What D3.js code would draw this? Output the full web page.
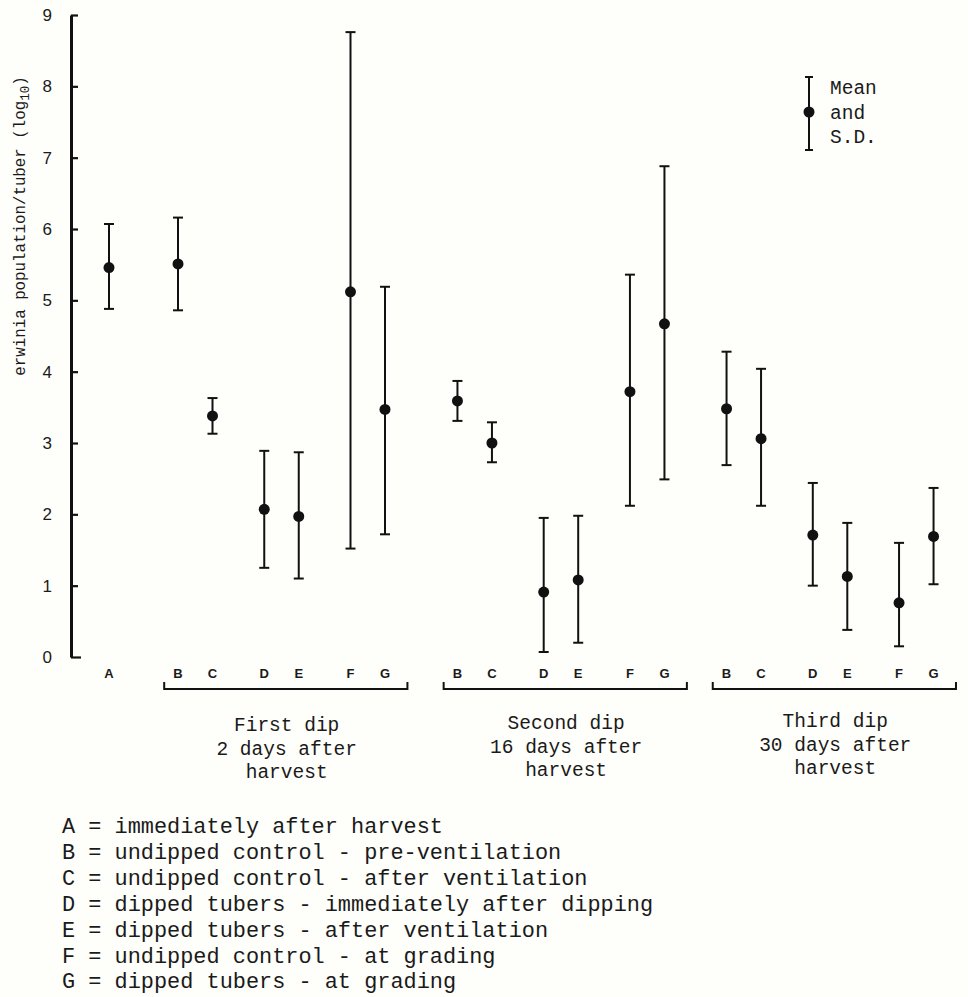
<!DOCTYPE html>
<html>
<head>
<meta charset="utf-8">
<script src="https://cdn.jsdelivr.net/npm/d3@7"></script>
<style>
  body { margin: 0; background: #fefefa; }
  svg { display: block; }
  .mono { font-family: "Liberation Mono", "DejaVu Sans Mono", monospace; fill: #1a1a1a; }
</style>
</head>
<body>
<script>
// ---- data (log10 erwinia population per tuber, mean and S.D. limits) ----
var codes = ["B", "C", "D", "E", "F", "G"];
var groups = [
  ["First dip", "2 days after", "harvest"],
  ["Second dip", "16 days after", "harvest"],
  ["Third dip", "30 days after", "harvest"]
];
// A = immediately after harvest
var meanA = 5.46, upperA = 6.07, lowerA = 4.88;
// one row per dip, columns B..G
var means = [
  [5.51, 3.38, 2.07, 1.97, 5.12, 3.47],
  [3.59, 3.00, 0.91, 1.08, 3.72, 4.67],
  [3.48, 3.06, 1.71, 1.13, 0.76, 1.69]
];
var upper = [
  [6.16, 3.63, 2.89, 2.87, 8.76, 5.19],
  [3.87, 3.29, 1.95, 1.98, 5.36, 6.88],
  [4.28, 4.04, 2.44, 1.88, 1.60, 2.37]
];
var lower = [
  [4.86, 3.13, 1.25, 1.10, 1.52, 1.72],
  [3.31, 2.73, 0.07, 0.20, 2.12, 2.49],
  [2.69, 2.12, 1.00, 0.38, 0.15, 1.02]
];
var yTicks = [0, 1, 2, 3, 4, 5, 6, 7, 8, 9];
var key = [
  "A = immediately after harvest",
  "B = undipped control - pre-ventilation",
  "C = undipped control - after ventilation",
  "D = dipped tubers - immediately after dipping",
  "E = dipped tubers - after ventilation",
  "F = undipped control - at grading",
  "G = dipped tubers - at grading"
];

// ---- layout ----
const w = 968, h = 997;
const codeOffset = [0, 1, 2.5, 3.5, 5, 6];   // slot units within a dip
const groupStart = [0, 8.1, 15.9];           // slot of B in each dip
const slotA = -2;

const svg = d3.select("body").append("svg")
  .attr("width", w)
  .attr("height", h);

const y = d3.scaleLinear().domain([0, 9]).range([657, 15]);
const x = d3.scaleLinear().domain([0, 1]).range([178, 212.5]);

// flat list of points
var points = [{ slot: slotA, code: "A", m: meanA, hi: upperA, lo: lowerA }];
means.forEach(function(row, g) {
  row.forEach(function(m, c) {
    points.push({
      slot: groupStart[g] + codeOffset[c],
      code: codes[c],
      m: m,
      hi: upper[g][c],
      lo: lower[g][c]
    });
  });
});

// y axis, ticks pointing inward
const yAxis = d3.axisLeft(y)
  .tickValues(yTicks)
  .tickSizeInner(-7)
  .tickSizeOuter(0)
  .tickPadding(19)
  .tickFormat(d3.format("d"));

const ag = svg.append("g")
  .attr("transform", "translate(71,0)")
  .call(yAxis);
ag.select(".domain").attr("stroke", "#111").attr("stroke-width", 3);
ag.selectAll(".tick line").attr("stroke", "#111").attr("stroke-width", 2.2);
ag.selectAll(".tick line").filter(function(d) { return d === 0; }).attr("x2", 10);
ag.selectAll(".tick text")
  .attr("font-family", "Liberation Sans, Arial, sans-serif")
  .attr("font-size", "17px")
  .attr("fill", "#1a1a1a");

// y axis title
const yt = svg.append("text")
  .attr("class", "mono")
  .attr("transform", "translate(25,226) rotate(-90)")
  .attr("text-anchor", "middle")
  .attr("font-size", "15.8px");
yt.append("tspan").text("erwinia population/tuber (log");
yt.append("tspan").attr("font-size", "12.5px").attr("dy", 4).text("10");
yt.append("tspan").attr("dy", -4).text(")");

// error bars
const bars = svg.append("g").attr("stroke", "#111").attr("stroke-width", 2);
bars.selectAll("line.v")
  .data(points)
  .enter()
  .append("line")
  .attr("class", "v")
  .attr("x1", function(d) { return x(d.slot); })
  .attr("x2", function(d) { return x(d.slot); })
  .attr("y1", function(d) { return y(d.hi); })
  .attr("y2", function(d) { return y(d.lo); });
bars.selectAll("line.cap-hi")
  .data(points)
  .enter()
  .append("line")
  .attr("x1", function(d) { return x(d.slot) - 5; })
  .attr("x2", function(d) { return x(d.slot) + 5; })
  .attr("y1", function(d) { return y(d.hi); })
  .attr("y2", function(d) { return y(d.hi); });
bars.selectAll("line.cap-lo")
  .data(points)
  .enter()
  .append("line")
  .attr("x1", function(d) { return x(d.slot) - 5; })
  .attr("x2", function(d) { return x(d.slot) + 5; })
  .attr("y1", function(d) { return y(d.lo); })
  .attr("y2", function(d) { return y(d.lo); });

svg.selectAll("circle")
  .data(points)
  .enter()
  .append("circle")
  .attr("cx", function(d) { return x(d.slot); })
  .attr("cy", function(d) { return y(d.m); })
  .attr("r", 5.5)
  .attr("fill", "#111");

// letter labels under axis
svg.selectAll("text.code")
  .data(points)
  .enter()
  .append("text")
  .attr("class", "code")
  .attr("x", function(d) { return x(d.slot); })
  .attr("y", 678)
  .attr("text-anchor", "middle")
  .attr("font-family", "Liberation Sans, Arial, sans-serif")
  .attr("font-weight", "bold")
  .attr("font-size", "13px")
  .attr("fill", "#1a1a1a")
  .text(function(d) { return d.code; });

// brackets for each dip
groups.forEach(function(lines, g) {
  var x0 = x(groupStart[g] - 0.4), x1 = x(groupStart[g] + 6.65);
  svg.append("path")
    .attr("d", "M" + x0 + ",682V689H" + x1 + "V682")
    .attr("fill", "none")
    .attr("stroke", "#111")
    .attr("stroke-width", 2);
  var cx = x(groupStart[g] + 3.15);
  svg.selectAll(null)
    .data(lines)
    .enter()
    .append("text")
    .attr("class", "mono")
    .attr("x", cx)
    .attr("y", function(d, i) { return 731 - g * 2 + i * 23.5; })
    .attr("text-anchor", "middle")
    .attr("font-size", "19.5px")
    .text(function(d) { return d; });
});

// legend (top right)
const lg = svg.append("g").attr("stroke", "#111").attr("stroke-width", 2);
lg.append("line").attr("x1", 809).attr("x2", 809).attr("y1", 77).attr("y2", 150);
lg.append("line").attr("x1", 805).attr("x2", 813).attr("y1", 77).attr("y2", 77);
lg.append("line").attr("x1", 805).attr("x2", 813).attr("y1", 150).attr("y2", 150);
svg.append("circle").attr("cx", 809).attr("cy", 112).attr("r", 5.5).attr("fill", "#111");
svg.selectAll("text.leg")
  .data(["Mean", "and", "S.D."])
  .enter()
  .append("text")
  .attr("class", "mono leg")
  .attr("x", 830)
  .attr("y", function(d, i) { return 94 + i * 24.5; })
  .attr("font-size", "19.5px")
  .text(function(d) { return d; });

// key at bottom
svg.selectAll("text.key")
  .data(key)
  .enter()
  .append("text")
  .attr("class", "mono key")
  .attr("x", 62)
  .attr("y", function(d, i) { return 833 + i * 25.9; })
  .attr("font-size", "21.9px")
  .text(function(d) { return d; });
</script>
</body>
</html>
